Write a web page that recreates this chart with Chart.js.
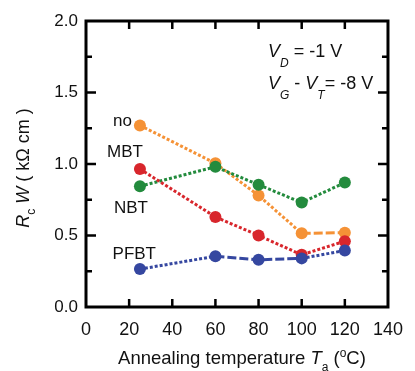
<!DOCTYPE html>
<html>
<head>
<meta charset="utf-8">
<script src="https://cdn.jsdelivr.net/npm/chart.js@4.4.1/dist/chart.umd.min.js"></script>
<style>
  html, body { margin: 0; padding: 0; background: #fff; }
  #wrap { width: 415px; height: 371px; }
</style>
</head>
<body>
<div id="wrap"><canvas id="rc"></canvas></div>
<script>
// annealing temperatures (C)
const temps = [25, 60, 80, 100, 120];

// contact resistance Rc*W (kOhm cm)
const noAdd = [1.27, 1.005, 0.78, 0.515, 0.52];
const mbt   = [0.965, 0.63, 0.50, 0.365, 0.46];
const nbt   = [0.845, 0.98, 0.855, 0.73, 0.87];
const pfbt  = [0.265, 0.355, 0.33, 0.34, 0.395];

const xTicks = [0, 20, 40, 60, 80, 100, 120, 140];
const yTicks = [0.0, 0.5, 1.0, 1.5, 2.0];
const yMinor = [0.25, 0.75, 1.25, 1.75];

const DOT = [3, 2];
const DASH = [9, 3];

function pts(vals) {
  return temps.map((t, i) => ({ x: t, y: vals[i] }));
}

function series(label, vals, color, dashes) {
  return {
    label: label,
    data: pts(vals),
    showLine: true,
    borderColor: color,
    backgroundColor: color,
    borderWidth: 3,
    pointRadius: 6,
    pointHoverRadius: 6,
    pointBorderWidth: 0,
    tension: 0,
    segment: {
      borderDash: ctx => dashes[ctx.p0DataIndex]
    }
  };
}

const FONT = '"Liberation Sans", Arial, sans-serif';

// draw frame, inside ticks and the titles with sub/superscripts
const framePlugin = {
  id: 'frame',
  afterDraw(chart) {
    const c = chart.ctx;
    const a = chart.chartArea;
    const xs = chart.scales.x, ys = chart.scales.y;
    c.save();
    c.strokeStyle = '#000';
    c.lineWidth = 3;
    c.strokeRect(a.left, a.top, a.right - a.left, a.bottom - a.top);

    c.lineWidth = 2.5;
    c.beginPath();
    xTicks.slice(1, -1).forEach(v => {
      const px = xs.getPixelForValue(v);
      c.moveTo(px, a.bottom); c.lineTo(px, a.bottom - 8);
      c.moveTo(px, a.top); c.lineTo(px, a.top + 8);
    });
    yTicks.slice(1, -1).forEach(v => {
      const py = ys.getPixelForValue(v);
      c.moveTo(a.left, py); c.lineTo(a.left + 10, py);
      c.moveTo(a.right, py); c.lineTo(a.right - 10, py);
    });
    yMinor.forEach(v => {
      const py = ys.getPixelForValue(v);
      c.moveTo(a.left, py); c.lineTo(a.left + 6, py);
      c.moveTo(a.right, py); c.lineTo(a.right - 6, py);
    });
    c.stroke();

    c.fillStyle = '#111';
    c.textBaseline = 'alphabetic';
    c.textAlign = 'left';

    // runs: [text, italic, shift(px, +down), size]
    function runs(list, x, y) {
      let cx = x;
      list.forEach(r => {
        c.font = (r[1] ? 'italic ' : '') + r[3] + 'px ' + FONT;
        c.fillText(r[0], cx, y + r[2]);
        cx += c.measureText(r[0]).width;
      });
    }
    function width(list) {
      let w = 0;
      list.forEach(r => {
        c.font = (r[1] ? 'italic ' : '') + r[3] + 'px ' + FONT;
        w += c.measureText(r[0]).width;
      });
      return w;
    }

    // series labels
    c.font = '17px ' + FONT;
    c.textAlign = 'right';
    c.fillText('no', 132, 126);
    c.fillText('MBT', 143, 157);
    c.fillText('NBT', 148, 213);
    c.fillText('PFBT', 156, 259);
    c.textAlign = 'left';

    // bias conditions
    runs([['V', true, 0, 18], ['D', true, 10, 12], [' = -1 V', false, 0, 18]], 268, 57);
    runs([['V', true, 0, 18], ['G', true, 10, 12], [' - ', false, 0, 18],
          ['V', true, 0, 18], ['T', true, 10, 12], ['= -8 V', false, 0, 18]], 268, 89);

    // x title
    const xt = [['Annealing temperature ', false, 0, 18.5], ['T', true, 0, 18.5], ['a', false, 7, 12],
                [' (', false, 0, 18.5], ['o', false, -7, 12], ['C)', false, 0, 18.5]];
    runs(xt, 242 - width(xt) / 2, 364);

    // y title
    const yt = [['R', true, 0, 18], ['c', false, 6, 12], [' W', true, 0, 18], [' ( k\u03A9 cm )', false, 0, 18]];
    c.translate(29, 168);
    c.rotate(-Math.PI / 2);
    runs(yt, -width(yt) / 2, 0);
    c.restore();
  }
};

new Chart(document.getElementById('rc'), {
  type: 'scatter',
  data: {
    datasets: [
      series('PFBT', pfbt, '#3547a0', [DOT, DASH, DASH, DOT]),
      series('MBT', mbt, '#d8262c', [DOT, DOT, DOT, DOT]),
      series('NBT', nbt, '#238b3d', [DOT, DOT, DOT, DOT]),
      series('no', noAdd, '#f59236', [DOT, DOT, DOT, DASH])
    ]
  },
  options: {
    responsive: true,
    maintainAspectRatio: false,
    animation: false,
    layout: { padding: { left: 0, right: 16, top: 21, bottom: 0 } },
    plugins: { legend: { display: false }, tooltip: { enabled: false } },
    scales: {
      x: {
        type: 'linear', min: 0, max: 140,
        afterBuildTicks: s => { s.ticks = xTicks.map(v => ({ value: v })); },
        afterFit: s => { s.height = 64; },
        grid: { display: false, drawTicks: false },
        border: { display: false },
        ticks: { color: '#111', padding: 12, font: { family: FONT, size: 18 } }
      },
      y: {
        type: 'linear', min: 0, max: 2,
        afterBuildTicks: s => { s.ticks = yTicks.map(v => ({ value: v })); },
        afterFit: s => { s.width = 86; },
        grid: { display: false, drawTicks: false },
        border: { display: false },
        ticks: { color: '#111', padding: 8, font: { family: FONT, size: 17 },
                 callback: v => v.toFixed(1) }
      }
    }
  },
  plugins: [framePlugin]
});
</script>
</body>
</html>
